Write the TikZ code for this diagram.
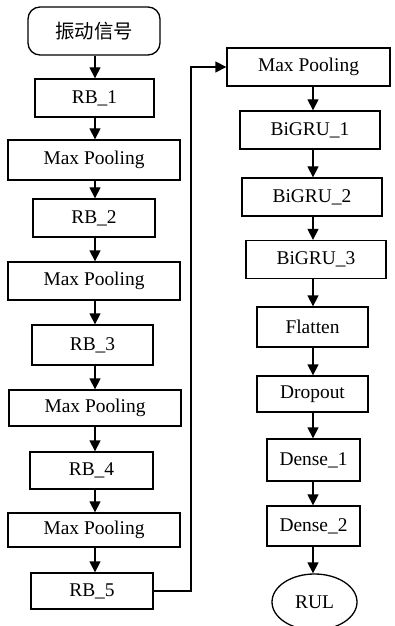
\documentclass[tikz,border=0pt]{standalone}
\usepackage{fontspec}
\setmainfont{Liberation Serif}
\newfontfamily\cjkfont{Noto Sans CJK SC}
\usetikzlibrary{arrows.meta,shapes.geometric}
\begin{document}
\begin{tikzpicture}[x=1bp, y=-1bp,
  box/.style={draw, line width=1.3bp, inner sep=0pt,
    font=\fontsize{19.5}{22}\selectfont},
  link/.style={line width=1.3bp, -{Triangle[width=11bp,length=11bp]}}]
  \useasboundingbox (0,0) rectangle (394,626);

  % left column: signal input and residual blocks
  \node[box, rounded corners=12bp, minimum width=132bp, minimum height=48bp] (sig) at (94,31) {\cjkfont 振动信号};
  \node[box, minimum width=119bp, minimum height=38bp] (rb1) at (94.5,98) {RB\_1};
  \node[box, minimum width=172bp, minimum height=40bp] (mp1) at (94,160) {Max Pooling};
  \node[box, minimum width=122bp, minimum height=38bp] (rb2) at (94,218) {RB\_2};
  \node[box, minimum width=172bp, minimum height=38bp] (mp2) at (94,281) {Max Pooling};
  \node[box, minimum width=121bp, minimum height=40bp] (rb3) at (92.5,345) {RB\_3};
  \node[box, minimum width=172bp, minimum height=36bp] (mp3) at (95,408) {Max Pooling};
  \node[box, minimum width=123bp, minimum height=37bp] (rb4) at (91.5,470.5) {RB\_4};
  \node[box, minimum width=172bp, minimum height=34bp] (mp4) at (94,530) {Max Pooling};
  \node[box, minimum width=122bp, minimum height=36bp] (rb5) at (92,591) {RB\_5};

  % right column: pooling, recurrent and dense layers
  \node[box, minimum width=163bp, minimum height=38bp] (mpR) at (308.5,67) {Max Pooling};
  \node[box, minimum width=140bp, minimum height=38bp] (g1) at (310,130) {BiGRU\_1};
  \node[box, minimum width=140bp, minimum height=38bp] (g2) at (312,197) {BiGRU\_2};
  \node[box, minimum width=140bp, minimum height=38bp] (g3) at (316,259.5) {BiGRU\_3};
  \node[box, minimum width=111bp, minimum height=40bp] (fl) at (312.5,327) {Flatten};
  \node[box, minimum width=111bp, minimum height=36bp] (dr) at (312.5,394) {Dropout};
  \node[box, minimum width=93bp, minimum height=42bp] (d1) at (313.5,460) {Dense\_1};
  \node[box, minimum width=93bp, minimum height=40bp] (d2) at (313.5,526) {Dense\_2};
  \node[box, ellipse, minimum width=85bp, minimum height=56bp] (rul) at (314.5,602) {RUL};

  % arrow axes
  \coordinate (lx) at (95,0);
  \coordinate (rx) at (313,0);
  \coordinate (bend) at (191,0);

  \foreach \a/\b in {sig/rb1, rb1/mp1, mp1/rb2, rb2/mp2, mp2/rb3, rb3/mp3, mp3/rb4, rb4/mp4, mp4/rb5}
    \draw[link] (\a.south -| lx) -- (\b.north -| lx);
  \foreach \a/\b in {mpR/g1, g1/g2, g2/g3, g3/fl, fl/dr, dr/d1, d1/d2, d2/rul}
    \draw[link] (\a.south -| rx) -- (\b.north -| rx);

  % jump from the last residual block to the right column
  \draw[link] (rb5.east) -| (bend |- mpR.west) -- (mpR.west);
\end{tikzpicture}
\end{document}
